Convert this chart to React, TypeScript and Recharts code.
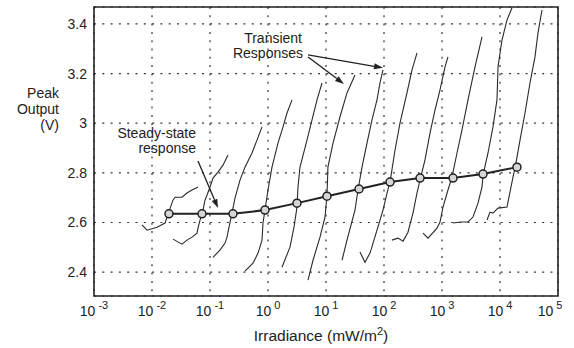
import {
  CartesianGrid,
  Line,
  LineChart,
  ReferenceArea,
  ReferenceLine,
  XAxis,
  YAxis,
} from 'recharts';

// Peak output vs irradiance: steady-state curve plus the transient sweeps.
// Values (x in mW/m², y in V).

const xTicks = [1e-3, 1e-2, 1e-1, 1, 1e1, 1e2, 1e3, 1e4, 1e5];
const yTicks = [2.4, 2.6, 2.8, 3, 3.2, 3.4];

const steadyIrr = [0.0196, 0.0728, 0.249, 0.887, 3.16, 10.4, 37.1, 127, 418, 1550, 5090, 19600];
const steadyVolt = [2.635, 2.635, 2.635, 2.65, 2.678, 2.706, 2.735, 2.763, 2.779, 2.779, 2.795, 2.823];

const transientA = [
  [0.00673, 2.59], [0.0082, 2.569], [0.0122, 2.581], [0.0168, 2.598], [0.0189, 2.634],
  [0.023, 2.69], [0.025, 2.702], [0.0329, 2.702], [0.0401, 2.719], [0.049, 2.731], [0.0621, 2.743],
];
const transientB = [
  [0.023, 2.533], [0.0329, 2.513], [0.0401, 2.529], [0.049, 2.541], [0.0597, 2.557], [0.0621, 2.577],
  [0.0673, 2.61], [0.0757, 2.65], [0.082, 2.69], [0.0887, 2.71], [0.1, 2.743], [0.1127, 2.779],
  [0.1374, 2.803], [0.1675, 2.831], [0.2042, 2.872],
];
const transientC = [
  [0.1127, 2.46], [0.1486, 2.489], [0.1815, 2.517], [0.1963, 2.541], [0.2128, 2.581], [0.2393, 2.638],
  [0.2698, 2.698], [0.3289, 2.771], [0.4009, 2.823], [0.5297, 2.88], [0.6457, 2.932], [0.7887, 2.985],
];
const transientD = [
  [0.401, 2.404], [0.551, 2.436], [0.673, 2.477], [0.789, 2.529], [0.82, 2.598], [0.887, 2.65],
  [1.0, 2.731], [1.172, 2.823], [1.486, 2.92], [1.815, 2.985], [2.128, 3.041], [2.594, 3.094],
];
const transientE = [
  [1.743, 2.42], [2.395, 2.501], [2.807, 2.581], [3.16, 2.662], [3.29, 2.743], [3.56, 2.823],
  [4.7, 2.932], [5.74, 3.013], [7.0, 3.094], [8.53, 3.162],
];
const transientF = [
  [4.9, 2.368], [5.97, 2.448], [7.88, 2.541], [9.61, 2.622], [10.4, 2.71], [10.8, 2.823],
  [13.2, 2.92], [17.4, 3.025], [23.0, 3.122], [31.6, 3.194],
];
const transientG = [
  [18.9, 2.448], [23.0, 2.529], [31.6, 2.65], [35.6, 2.731], [41.8, 2.823], [50.9, 2.92],
  [62.1, 3.013], [75.7, 3.094], [85.3, 3.162], [96.1, 3.215],
];
const transientH = [
  [38.5, 2.481], [47.0, 2.44], [57.4, 2.477], [75.7, 2.569], [96.1, 2.65], [113, 2.719],
  [127, 2.763], [155, 2.892], [189, 3.001], [249, 3.122], [304, 3.215], [371, 3.283],
];
const transientI = [
  [137, 2.529], [174, 2.537], [213, 2.525], [259, 2.561], [316, 2.638], [371, 2.719], [418, 2.771],
  [509, 2.852], [621, 2.96], [757, 3.053], [924, 3.134], [1127, 3.227], [1268, 3.267],
];
const transientJ = [
  [470, 2.557], [574, 2.537], [820, 2.577], [924, 2.602], [1040, 2.662], [1268, 2.731], [1486, 2.783],
  [1815, 2.88], [2213, 2.973], [2807, 3.094], [3707, 3.227], [4898, 3.348],
];
const transientK = [
  [1549, 2.598], [2128, 2.602], [2807, 2.602], [3420, 2.622], [4178, 2.678], [4898, 2.743],
  [5093, 2.791], [6209, 2.88], [7568, 2.985], [8872, 3.094], [9243, 3.227], [10820, 3.335],
  [13210, 3.416], [16110, 3.465],
];
const transientL = [
  [5970, 2.61], [6730, 2.642], [7568, 2.638], [9243, 2.658], [13210, 2.662], [13740, 2.682],
  [14860, 2.722], [16750, 2.783], [18150, 2.819], [22130, 2.932], [26980, 3.041], [32890, 3.162],
  [40090, 3.267], [45190, 3.364], [52970, 3.456],
];

const transients = [
  transientA, transientB, transientC, transientD, transientE, transientF,
  transientG, transientH, transientI, transientJ, transientK, transientL,
];

// annotation arrows: [from, to] in data coordinates
const arrows = [
  [[4.9, 3.275], [96.1, 3.223]],
  [[4.9, 3.267], [20.4, 3.158]],
  [[0.0621, 2.848], [0.1374, 2.658]],
];

const FONT = '"Liberation Sans", Arial, Helvetica, sans-serif';
const INK = '#222';

function PowerTick({ x, y, payload }: any) {
  const exp = Math.round(Math.log10(payload.value));
  return (
    <text x={x} y={y + 20} textAnchor="middle" fontSize={14} fill={INK} fontFamily={FONT}>
      <tspan>10</tspan>
      <tspan dx={3} dy={-7} fontSize={11}>
        {exp}
      </tspan>
    </text>
  );
}

function Arrow(props: any) {
  const { x1, y1, x2, y2 } = props;
  const a = Math.atan2(y2 - y1, x2 - x1);
  const len = 9;
  const w = 3;
  const bx = x2 - len * Math.cos(a);
  const by = y2 - len * Math.sin(a);
  const px = -Math.sin(a) * w;
  const py = Math.cos(a) * w;
  return (
    <g>
      <line x1={x1} y1={y1} x2={bx} y2={by} stroke={INK} strokeWidth={1.3} />
      <polygon points={`${x2},${y2} ${bx + px},${by + py} ${bx - px},${by - py}`} fill={INK} />
    </g>
  );
}

export default function App() {
  const steady = steadyIrr.map((x, i) => ({ x, v: steadyVolt[i] }));
  return (
    <div
      style={{
        position: 'absolute',
        left: 0,
        top: 0,
        width: 574,
        height: 348,
        background: '#fff',
        fontFamily: FONT,
      }}
    >
      <LineChart width={574} height={348} margin={{ top: 7, right: 16, bottom: 0, left: 0 }}>
        <CartesianGrid stroke="#333" strokeWidth={1.2} strokeDasharray="2 6.3" />
        <XAxis
          dataKey="x"
          type="number"
          scale="log"
          domain={[1e-3, 1e5]}
          ticks={xTicks}
          allowDataOverflow
          height={52}
          tickSize={0}
          tickMargin={0}
          tick={<PowerTick />}
          axisLine={false}
          tickLine={false}
        />
        <YAxis
          type="number"
          domain={[2.304, 3.468]}
          ticks={yTicks}
          allowDataOverflow
          width={94}
          tickSize={0}
          tickMargin={7}
          axisLine={false}
          tickLine={false}
          tick={{ fontSize: 14, fill: INK, fontFamily: FONT }}
        />
        <ReferenceArea
          x1={1e-3}
          x2={1e5}
          y1={2.304}
          y2={3.468}
          fill="none"
          fillOpacity={0}
          stroke={INK}
          strokeWidth={1.6}
        />
        {transients.map((t, i) => (
          <Line
            key={i}
            data={t.map(([x, v]) => ({ x, v }))}
            dataKey="v"
            type="linear"
            stroke="#2a2a2a"
            strokeWidth={1.1}
            dot={false}
            isAnimationActive={false}
          />
        ))}
        <Line
          data={steady}
          dataKey="v"
          type="linear"
          stroke={INK}
          strokeWidth={2}
          dot={{ r: 4, fill: '#d6d6d6', stroke: INK, strokeWidth: 1.5 }}
          isAnimationActive={false}
        />
        {arrows.map(([from, to], i) => (
          <ReferenceLine
            key={i}
            segment={[
              { x: from[0], y: from[1] },
              { x: to[0], y: to[1] },
            ]}
            stroke={INK}
            shape={<Arrow />}
          />
        ))}
      </LineChart>
      <svg
        width={574}
        height={348}
        style={{ position: 'absolute', left: 0, top: 0, pointerEvents: 'none' }}
        fontFamily={FONT}
        fill={INK}
        fontSize={14}
      >
        <text x={59} y={98} textAnchor="end">Peak</text>
        <text x={59} y={114} textAnchor="end">Output</text>
        <text x={59} y={130} textAnchor="end">(V)</text>
        <text x={302} y={43} textAnchor="end">Transient</text>
        <text x={303} y={58} textAnchor="end">Responses</text>
        <text x={196} y={138} textAnchor="end">Steady-state</text>
        <text x={196} y={153} textAnchor="end">response</text>
        <text x={321} y={341} textAnchor="middle" fontSize={15.5}>
          Irradiance (mW/m
          <tspan dy={-6} fontSize={11}>2</tspan>
          <tspan dy={6}>)</tspan>
        </text>
      </svg>
    </div>
  );
}
